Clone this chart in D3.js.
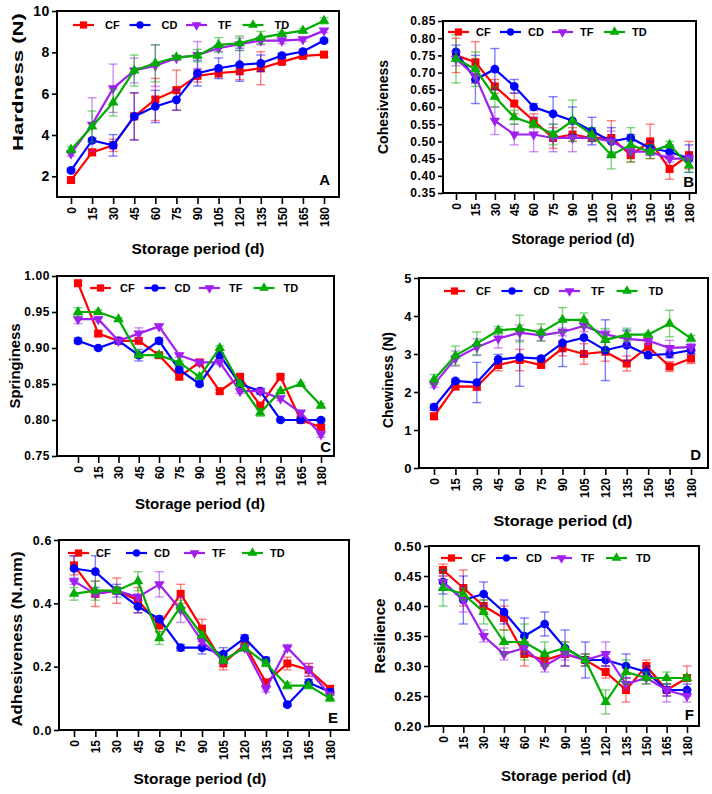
<!doctype html>
<html lang="en">
<head>
  <meta charset="utf-8">
  <title>Texture during storage</title>
  <script src="https://d3js.org/d3.v7.min.js"></script>
  <style>
    body { margin: 0; background: #fff; }
    svg { display: block; font-family: "Liberation Sans", Arial, sans-serif; font-weight: bold; }
  </style>
</head>
<body>
  <script>
    // storage days and treatments
    var days = ["0", "15", "30", "45", "60", "75", "90", "105", "120", "135", "150", "165", "180"];
    var groups = ["CF", "CD", "TF", "TD"];

    // A - hardness (N)
    var hardnessCF = [1.82, 3.16, 3.5, 4.9, 5.72, 6.17, 6.86, 7.0, 7.08, 7.23, 7.54, 7.83, 7.89];
    var hardnessCD = [2.29, 3.74, 3.5, 4.9, 5.38, 5.7, 6.99, 7.23, 7.4, 7.47, 7.84, 8.04, 8.57];
    var hardnessTF = [3.1, 4.5, 6.26, 7.12, 7.35, 7.72, 7.87, 8.2, 8.39, 8.57, 8.57, 8.63, 9.05];
    var hardnessTD = [3.29, 4.41, 5.57, 7.12, 7.47, 7.76, 7.84, 8.36, 8.44, 8.71, 8.89, 9.05, 9.53];
    var hardnessCFsd = [0.1, 0.15, 0.3, 1.12, 1.02, 0.97, 0.3, 0.22, 0.4, 0.8, 0.1, 0.1, 0.1];
    var hardnessCDsd = [0.1, 0.1, 0.52, 1.15, 0.78, 0.5, 0.62, 0.5, 0.8, 0.4, 0.1, 0.1, 0.1];
    var hardnessTFsd = [0.12, 1.3, 1.17, 0.6, 1.0, 0.1, 0.65, 0.15, 0.3, 0.2, 0.15, 0.1, 0.1];
    var hardnessTDsd = [0.15, 0.75, 0.65, 0.75, 0.9, 0.1, 0.3, 0.35, 0.35, 0.3, 0.1, 0.1, 0.15];

    // B - cohesiveness
    var cohesCF = [0.75, 0.73, 0.66, 0.61, 0.56, 0.51, 0.52, 0.51, 0.51, 0.46, 0.50, 0.42, 0.46];
    var cohesCD = [0.76, 0.68, 0.71, 0.66, 0.60, 0.58, 0.56, 0.53, 0.50, 0.51, 0.48, 0.47, 0.45];
    var cohesTF = [0.74, 0.69, 0.56, 0.52, 0.52, 0.51, 0.51, 0.51, 0.50, 0.47, 0.47, 0.45, 0.45];
    var cohesTD = [0.74, 0.71, 0.63, 0.57, 0.55, 0.52, 0.56, 0.52, 0.46, 0.49, 0.47, 0.49, 0.43];
    var cohesCFsd = [0.05, 0.06, 0.02, 0.03, 0.02, 0.03, 0.02, 0.01, 0.05, 0.02, 0.05, 0.03, 0.04];
    var cohesCDsd = [0.02, 0.07, 0.06, 0.02, 0.01, 0.05, 0.04, 0.04, 0.04, 0.01, 0.02, 0.02, 0.04];
    var cohesTFsd = [0.02, 0.02, 0.04, 0.03, 0.05, 0.04, 0.04, 0.01, 0.03, 0.01, 0.01, 0.01, 0.01];
    var cohesTDsd = [0.07, 0.05, 0.03, 0.02, 0.01, 0.03, 0.06, 0.02, 0.04, 0.05, 0.02, 0.01, 0.02];

    // C - springiness
    var springCF = [0.99, 0.92, 0.91, 0.91, 0.89, 0.86, 0.88, 0.84, 0.86, 0.82, 0.86, 0.80, 0.79];
    var springCD = [0.91, 0.90, 0.91, 0.89, 0.91, 0.87, 0.85, 0.89, 0.85, 0.84, 0.80, 0.80, 0.80];
    var springTF = [0.94, 0.94, 0.91, 0.92, 0.93, 0.89, 0.88, 0.88, 0.84, 0.84, 0.83, 0.81, 0.78];
    var springTD = [0.95, 0.95, 0.94, 0.89, 0.89, 0.88, 0.86, 0.90, 0.85, 0.81, 0.84, 0.85, 0.82];
    var springCFsd = [0.003, 0.003, 0.002, 0.004, 0.002, 0.003, 0.002, 0.002, 0.003, 0.004, 0.002, 0.003, 0.003];
    var springCDsd = [0.004, 0.002, 0.002, 0.008, 0.004, 0.003, 0.003, 0.003, 0.003, 0.004, 0.002, 0.002, 0.002];
    var springTFsd = [0.006, 0.004, 0.002, 0.008, 0.003, 0.003, 0.002, 0.003, 0.003, 0.002, 0.003, 0.004, 0.004];
    var springTDsd = [0.006, 0.003, 0.002, 0.002, 0.002, 0.002, 0.002, 0.003, 0.002, 0.005, 0.002, 0.002, 0.003];

    // D - chewiness (N)
    var chewCF = [1.36, 2.15, 2.14, 2.71, 2.84, 2.71, 3.15, 3.0, 3.06, 2.75, 3.19, 2.67, 2.88];
    var chewCD = [1.6, 2.29, 2.25, 2.86, 2.91, 2.88, 3.29, 3.43, 3.1, 3.23, 2.97, 3.0, 3.1];
    var chewTF = [2.2, 2.88, 3.18, 3.41, 3.56, 3.49, 3.58, 3.74, 3.52, 3.4, 3.35, 3.16, 3.18];
    var chewTD = [2.33, 2.96, 3.28, 3.62, 3.67, 3.57, 3.9, 3.9, 3.37, 3.51, 3.51, 3.8, 3.41];
    var chewCFsd = [0.08, 0.1, 0.1, 0.15, 0.28, 0.05, 0.2, 0.27, 0.25, 0.2, 0.15, 0.13, 0.13];
    var chewCDsd = [0.08, 0.05, 0.53, 0.13, 0.76, 0.05, 0.62, 0.47, 0.8, 0.4, 0.08, 0.1, 0.1];
    var chewTFsd = [0.08, 0.2, 0.22, 0.25, 0.2, 0.15, 0.1, 0.15, 0.1, 0.2, 0.1, 0.2, 0.1];
    var chewTDsd = [0.13, 0.25, 0.3, 0.1, 0.35, 0.22, 0.32, 0.18, 0.3, 0.17, 0.05, 0.35, 0.08];

    // E - adhesiveness (N.mm)
    var adhesCF = [0.52, 0.43, 0.44, 0.41, 0.33, 0.43, 0.32, 0.21, 0.27, 0.15, 0.21, 0.19, 0.13];
    var adhesCD = [0.51, 0.50, 0.44, 0.39, 0.35, 0.26, 0.26, 0.24, 0.29, 0.22, 0.08, 0.15, 0.12];
    var adhesTF = [0.47, 0.43, 0.44, 0.42, 0.46, 0.38, 0.28, 0.22, 0.26, 0.13, 0.26, 0.19, 0.11];
    var adhesTD = [0.43, 0.44, 0.44, 0.47, 0.29, 0.39, 0.30, 0.22, 0.26, 0.21, 0.14, 0.14, 0.10];
    var adhesCFsd = [0.03, 0.04, 0.04, 0.04, 0.02, 0.03, 0.03, 0.02, 0.02, 0.01, 0.02, 0.02, 0.01];
    var adhesCDsd = [0.04, 0.05, 0.02, 0.02, 0.01, 0.01, 0.02, 0.02, 0.01, 0.01, 0.005, 0.01, 0.01];
    var adhesTFsd = [0.01, 0.01, 0.01, 0.01, 0.04, 0.04, 0.01, 0.01, 0.01, 0.01, 0.01, 0.02, 0.01];
    var adhesTDsd = [0.02, 0.03, 0.01, 0.03, 0.02, 0.02, 0.01, 0.01, 0.01, 0.01, 0.01, 0.01, 0.01];

    // F - resilience
    var resilCF = [0.46, 0.43, 0.40, 0.38, 0.32, 0.31, 0.32, 0.31, 0.29, 0.26, 0.30, 0.26, 0.28];
    var resilCD = [0.44, 0.41, 0.42, 0.39, 0.35, 0.37, 0.33, 0.31, 0.31, 0.30, 0.29, 0.26, 0.26];
    var resilTF = [0.44, 0.41, 0.35, 0.32, 0.33, 0.30, 0.32, 0.31, 0.32, 0.27, 0.28, 0.26, 0.25];
    var resilTD = [0.43, 0.42, 0.39, 0.34, 0.34, 0.32, 0.33, 0.31, 0.24, 0.29, 0.28, 0.28, 0.28];
    var resilCFsd = [0.01, 0.03, 0.01, 0.02, 0.02, 0.01, 0.02, 0.01, 0.01, 0.02, 0.01, 0.01, 0.02];
    var resilCDsd = [0.02, 0.04, 0.02, 0.02, 0.03, 0.02, 0.03, 0.03, 0.01, 0.02, 0.01, 0.01, 0.01];
    var resilTFsd = [0.01, 0.02, 0.01, 0.01, 0.01, 0.01, 0.01, 0.01, 0.02, 0.01, 0.01, 0.02, 0.01];
    var resilTDsd = [0.03, 0.01, 0.02, 0.02, 0.03, 0.02, 0.01, 0.01, 0.02, 0.02, 0.01, 0.01, 0.005];

    var colors = ["#ff0000", "#0000ff", "#a020f0", "#00ad00"];

    // panel placement on the page
    var panels = [
      { letter: "A", title: "Hardness (N)", means: [hardnessCF, hardnessCD, hardnessTF, hardnessTD],
        sds: [hardnessCFsd, hardnessCDsd, hardnessTFsd, hardnessTDsd],
        box: [57, 339, 11, 197], xr: [71, 324], dom: [1, 10], ticks: [2, 4, 6, 8, 10], fmt: "d", tick: 14,
        yt: [18, 82, 138], xt: [198, 254, 133], let: [330, 185], leg: [73, 25, 56.5, 32] },
      { letter: "B", title: "Cohesiveness", means: [cohesCF, cohesCD, cohesTF, cohesTD],
        sds: [cohesCFsd, cohesCDsd, cohesTFsd, cohesTDsd],
        box: [443, 696, 21, 193], xr: [456, 689], dom: [0.35, 0.85], ticks: d3.range(0.35, 0.851, 0.05), fmt: ".2f", tick: 12,
        yt: [383, 107, 94], xt: [573, 244, 123], let: [694, 187], leg: [448, 32, 52, 28] },
      { letter: "C", title: "Springiness", means: [springCF, springCD, springTF, springTD],
        sds: [springCFsd, springCDsd, springTFsd, springTDsd],
        box: [57, 334, 276, 456], xr: [78, 321], dom: [0.75, 1.0], ticks: d3.range(0.75, 1.001, 0.05), fmt: ".2f", tick: 12,
        yt: [15, 366, 85], xt: [200, 509, 130], let: [331, 452], leg: [90, 288, 54.5, 30] },
      { letter: "D", title: "Chewiness (N)", means: [chewCF, chewCD, chewTF, chewTD],
        sds: [chewCFsd, chewCDsd, chewTFsd, chewTDsd],
        box: [419, 708, 278, 468], xr: [434, 691], dom: [0, 5], ticks: [0, 1, 2, 3, 4, 5], fmt: "d", tick: 13,
        yt: [388, 380, 96], xt: [563, 526, 139], let: [701, 460], leg: [444, 291, 57.5, 32] },
      { letter: "E", title: "Adhesiveness (N.mm)", means: [adhesCF, adhesCD, adhesTF, adhesTD],
        sds: [adhesCFsd, adhesCDsd, adhesTFsd, adhesTDsd],
        box: [59, 349, 540, 730], xr: [74, 330], dom: [0, 0.6], ticks: [0, 0.2, 0.4, 0.6], fmt: ".1f", tick: 12.5,
        yt: [17, 639, 175], xt: [200, 784, 133], let: [338, 723], leg: [68, 553, 58, 28] },
      { letter: "F", title: "Resilience", means: [resilCF, resilCD, resilTF, resilTD],
        sds: [resilCFsd, resilCDsd, resilTFsd, resilTDsd],
        box: [429, 699, 546, 726], xr: [443, 687], dom: [0.2, 0.5], ticks: d3.range(0.2, 0.501, 0.05), fmt: ".2f", tick: 13,
        yt: [380, 636, 75], xt: [566, 781, 130], let: [694, 720], leg: [441, 558, 55, 30] }
    ];

    var svg = d3.select("body").append("svg")
      .attr("width", 712)
      .attr("height", 794);

    function symbolFor(i, size) {
      var types = [d3.symbolSquare, d3.symbolCircle, d3.symbolTriangle, d3.symbolTriangle];
      var sizes = [64, 60, 48, 48];
      return d3.symbol().type(types[i]).size(size || sizes[i]);
    }

    panels.forEach(drawPanel);

    function drawPanel(p) {
      var g = svg.append("g");
      var x = d3.scalePoint().domain(days).range(p.xr);
      var y = d3.scaleLinear().domain(p.dom).range([p.box[3], p.box[2]]);

      // y axis
      var yAxis = g.append("g")
        .attr("transform", "translate(" + p.box[0] + ",0)")
        .call(d3.axisLeft(y).tickValues(p.ticks).tickSize(5).tickPadding(2).tickFormat(d3.format(p.fmt)));
      yAxis.select(".domain").remove();
      yAxis.selectAll("line").attr("stroke", "#000").attr("stroke-width", 1.6);
      yAxis.selectAll("text").attr("font-size", p.tick).attr("font-family", "Liberation Sans, Arial")
        .attr("font-weight", "bold").attr("letter-spacing", "0.6px").attr("fill", "#000");

      // x axis
      var xAxis = g.append("g")
        .attr("transform", "translate(0," + p.box[3] + ")")
        .call(d3.axisBottom(x).tickSize(7));
      xAxis.select(".domain").remove();
      xAxis.selectAll("line").attr("stroke", "#000").attr("stroke-width", 1.6);
      xAxis.selectAll("text")
        .attr("font-size", 12).attr("font-family", "Liberation Sans, Arial").attr("font-weight", "bold")
        .attr("fill", "#000")
        .attr("transform", "rotate(-90)")
        .attr("x", -10).attr("y", 0).attr("dy", "0.36em")
        .style("text-anchor", "end");

      // frame
      g.append("rect")
        .attr("x", p.box[0]).attr("y", p.box[2])
        .attr("width", p.box[1] - p.box[0]).attr("height", p.box[3] - p.box[2])
        .attr("fill", "none").attr("stroke", "#000").attr("stroke-width", 2);

      // series
      groups.forEach(function (name, i) {
        var pts = days.map(function (d, k) { return { day: d, v: p.means[i][k], sd: p.sds[i][k] }; });
        var sg = g.append("g");
        var eb = sg.append("g").attr("stroke", colors[i]).attr("stroke-opacity", 0.5).attr("stroke-width", 1.4);
        pts.forEach(function (d) {
          var cx = x(d.day), y1 = y(d.v - d.sd), y2 = y(d.v + d.sd);
          eb.append("line").attr("x1", cx).attr("x2", cx).attr("y1", y1).attr("y2", y2);
          eb.append("line").attr("x1", cx - 4.5).attr("x2", cx + 4.5).attr("y1", y1).attr("y2", y1);
          eb.append("line").attr("x1", cx - 4.5).attr("x2", cx + 4.5).attr("y1", y2).attr("y2", y2);
        });
        sg.append("path")
          .datum(pts)
          .attr("fill", "none")
          .attr("stroke", colors[i])
          .attr("stroke-width", 2.2)
          .attr("d", d3.line().x(function (d) { return x(d.day); }).y(function (d) { return y(d.v); }));
        sg.selectAll("path.mk")
          .data(pts)
          .join("path")
          .attr("class", "mk")
          .attr("fill", colors[i])
          .attr("transform", function (d) {
            return "translate(" + x(d.day) + "," + y(d.v) + ")" + (i === 2 ? " rotate(180)" : "");
          })
          .attr("d", symbolFor(i));
      });

      // legend
      var leg = g.append("g");
      groups.forEach(function (name, i) {
        var lx = p.leg[0] + i * p.leg[2], ly = p.leg[1];
        leg.append("line").attr("x1", lx).attr("x2", lx + 21).attr("y1", ly).attr("y2", ly)
          .attr("stroke", colors[i]).attr("stroke-width", 2.2);
        leg.append("path")
          .attr("fill", colors[i])
          .attr("transform", "translate(" + (lx + 10.5) + "," + ly + ")" + (i === 2 ? " rotate(180)" : ""))
          .attr("d", symbolFor(i, i === 0 ? 52 : 42));
        leg.append("text").attr("x", lx + p.leg[3]).attr("y", ly).attr("dy", "0.36em")
          .attr("font-size", 11).attr("fill", "#000").text(name);
      });

      // panel letter
      g.append("text").attr("x", p.let[0]).attr("y", p.let[1])
        .attr("text-anchor", "end").attr("font-size", 15).attr("fill", "#000").text(p.letter);

      // axis titles
      g.append("text")
        .attr("transform", "translate(" + p.yt[0] + "," + p.yt[1] + ") rotate(-90)")
        .attr("text-anchor", "middle").attr("dy", "0.36em")
        .attr("font-size", 15).attr("textLength", p.yt[2]).attr("lengthAdjust", "spacingAndGlyphs")
        .attr("fill", "#000").text(p.title);
      g.append("text")
        .attr("x", p.xt[0]).attr("y", p.xt[1])
        .attr("text-anchor", "middle")
        .attr("font-size", 15.5).attr("textLength", p.xt[2]).attr("lengthAdjust", "spacingAndGlyphs")
        .attr("fill", "#000").text("Storage period (d)");
    }
  </script>
</body>
</html>
